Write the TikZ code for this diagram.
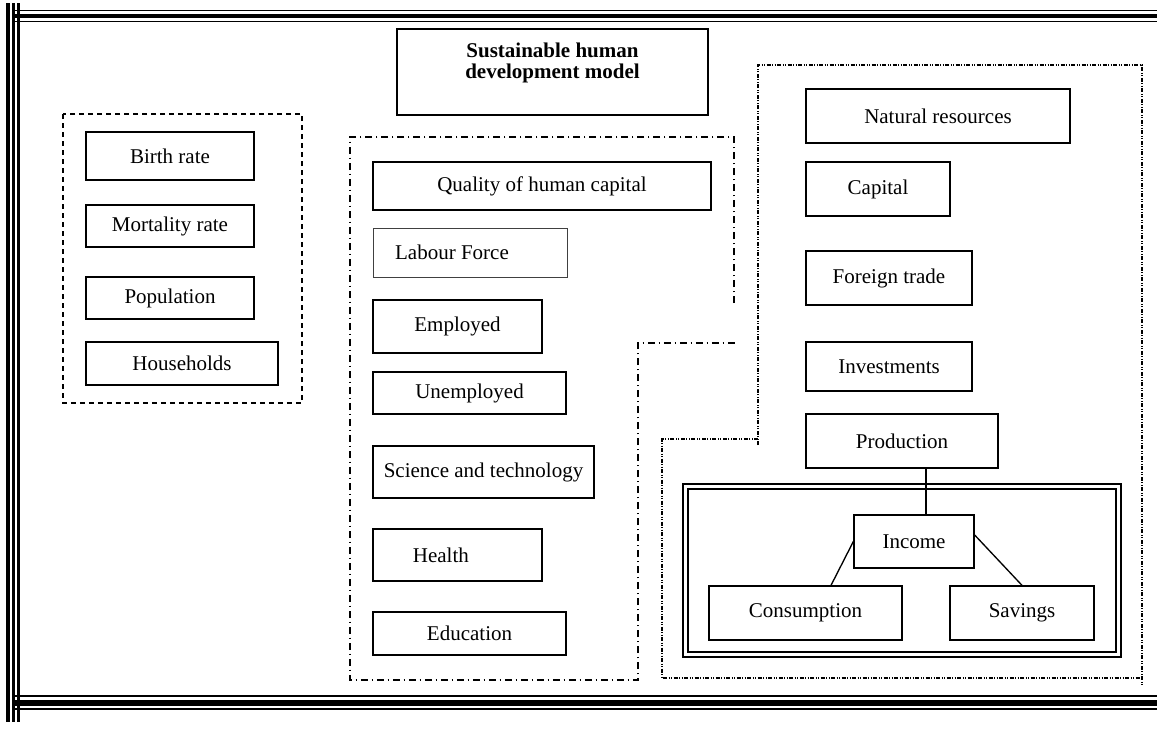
\documentclass[tikz,border=0pt]{standalone}
\usepackage{fontspec}
\setmainfont{Liberation Serif}
\usepackage{tikz}

\begin{document}
\begin{tikzpicture}[x=0.6pt, y=-0.6pt,
    box/.style={draw, line width=0.8pt, inner sep=0pt,
        font=\fontsize{12.6}{15}\selectfont},
    popgroup/.style={line width=0.8pt, dash pattern=on 3pt off 2.4pt},
    humangroup/.style={line width=0.8pt,
        dash pattern=on 4pt off 2.4pt on 0.8pt off 2.4pt},
    econgroup/.style={line width=0.8pt,
        dash pattern=on 2.4pt off 0.9pt on 0.6pt off 0.9pt on 0.6pt off 0.9pt},
    link/.style={line width=0.8pt}]

\useasboundingbox (0,0) rectangle (1157,731);

% Page frame
\draw[line width=2.4pt] (8,3) -- (8,722);
\draw[line width=1.4pt] (13.5,3) -- (13.5,722);
\draw[line width=1.8pt] (18.5,3) -- (18.5,722);
\draw[line width=0.9pt] (14,10.5) -- (1157,10.5);
\draw[line width=2.4pt] (14,16) -- (1157,16);
\draw[line width=0.9pt] (14,21.5) -- (1157,21.5);
\draw[line width=0.9pt] (14,696) -- (1157,696);
\draw[line width=3.6pt] (14,702.5) -- (1157,702.5);
\draw[line width=0.9pt] (14,709) -- (1157,709);

% Title
\node[box, minimum width=186.6pt, minimum height=51.6pt] (title) at (552.5,72) {};
\node[font=\fontsize{12.6}{12.3}\selectfont\bfseries, align=center]
    (titletext) at (552.5,63) {Sustainable human\\development model};

% Population block
\draw[popgroup] (63,114) rectangle (302,403);
\node[box, minimum width=100.8pt, minimum height=28.8pt] (birth) at (170,156) {Birth rate};
\node[box, minimum width=100.8pt, minimum height=25.2pt] (mort) at (170,226) {Mortality rate};
\node[box, minimum width=100.8pt, minimum height=25.2pt] (pop) at (170,298) {Population};
\node[box, minimum width=115.2pt, minimum height=25.8pt] (house) at (182,363.5) {Households};

% Human capital block
\draw[humangroup] (734,303) -- (734,137) -- (350,137) -- (350,680)
    -- (638,680) -- (638,343) -- (738,343);
\node[box, minimum width=202.8pt, minimum height=28.8pt] (qual) at (542,186) {Quality of human capital};
\node[box, line width=0.5pt, draw=black!75, minimum width=116.4pt, minimum height=29.4pt]
    (labour) at (470,252.5) {Labour Force\hspace*{21.6pt}};
\node[box, minimum width=101.4pt, minimum height=31.8pt] (empl) at (457.5,326.5) {Employed};
\node[box, minimum width=115.8pt, minimum height=25.2pt] (unempl) at (469.5,393) {Unemployed};
\node[box, minimum width=132.6pt, minimum height=31.2pt] (sci) at (483.5,472) {Science and technology};
\node[box, minimum width=101.4pt, minimum height=31.2pt] (health) at (457.5,555) {Health\hspace*{20pt}};
\node[box, minimum width=115.8pt, minimum height=25.8pt] (edu) at (469.5,633.5) {Education};

% Economy block
\draw[econgroup] (758,445) -- (758,65) -- (1142,65) -- (1142,686);
\draw[econgroup] (758,439) -- (662,439) -- (662,678) -- (1142,678);
\node[box, minimum width=158.4pt, minimum height=32.4pt] (nat) at (938,116) {Natural resources};
\node[box, minimum width=86.4pt, minimum height=32.4pt] (cap) at (878,189) {Capital};
\node[box, minimum width=99.6pt, minimum height=32.4pt] (trade) at (889,278) {Foreign trade};
\node[box, minimum width=99.6pt, minimum height=29.4pt] (inv) at (889,366.5) {Investments};
\node[box, minimum width=115.2pt, minimum height=32.4pt] (prod) at (902,441) {Production};

% Income split
\draw[line width=1pt] (683,484) rectangle (1121,657);
\draw[line width=1pt] (688,489) rectangle (1116,652);
\node[box, minimum width=72pt, minimum height=31.8pt] (inc) at (914,541.5) {Income};
\node[box, minimum width=115.8pt, minimum height=32.4pt] (cons) at (805.5,613) {Consumption};
\node[box, minimum width=86.4pt, minimum height=32.4pt] (sav) at (1022,613) {Savings};

\coordinate (inctop) at ([xshift=7.2pt]inc.north);
\draw[link] (inctop) -- (inctop |- prod.south);
\draw[link] (inc.west) -- ([xshift=15.3pt]cons.north);
\draw[link] ([yshift=3.9pt]inc.east) -- (sav.north);

\end{tikzpicture}
\end{document}
